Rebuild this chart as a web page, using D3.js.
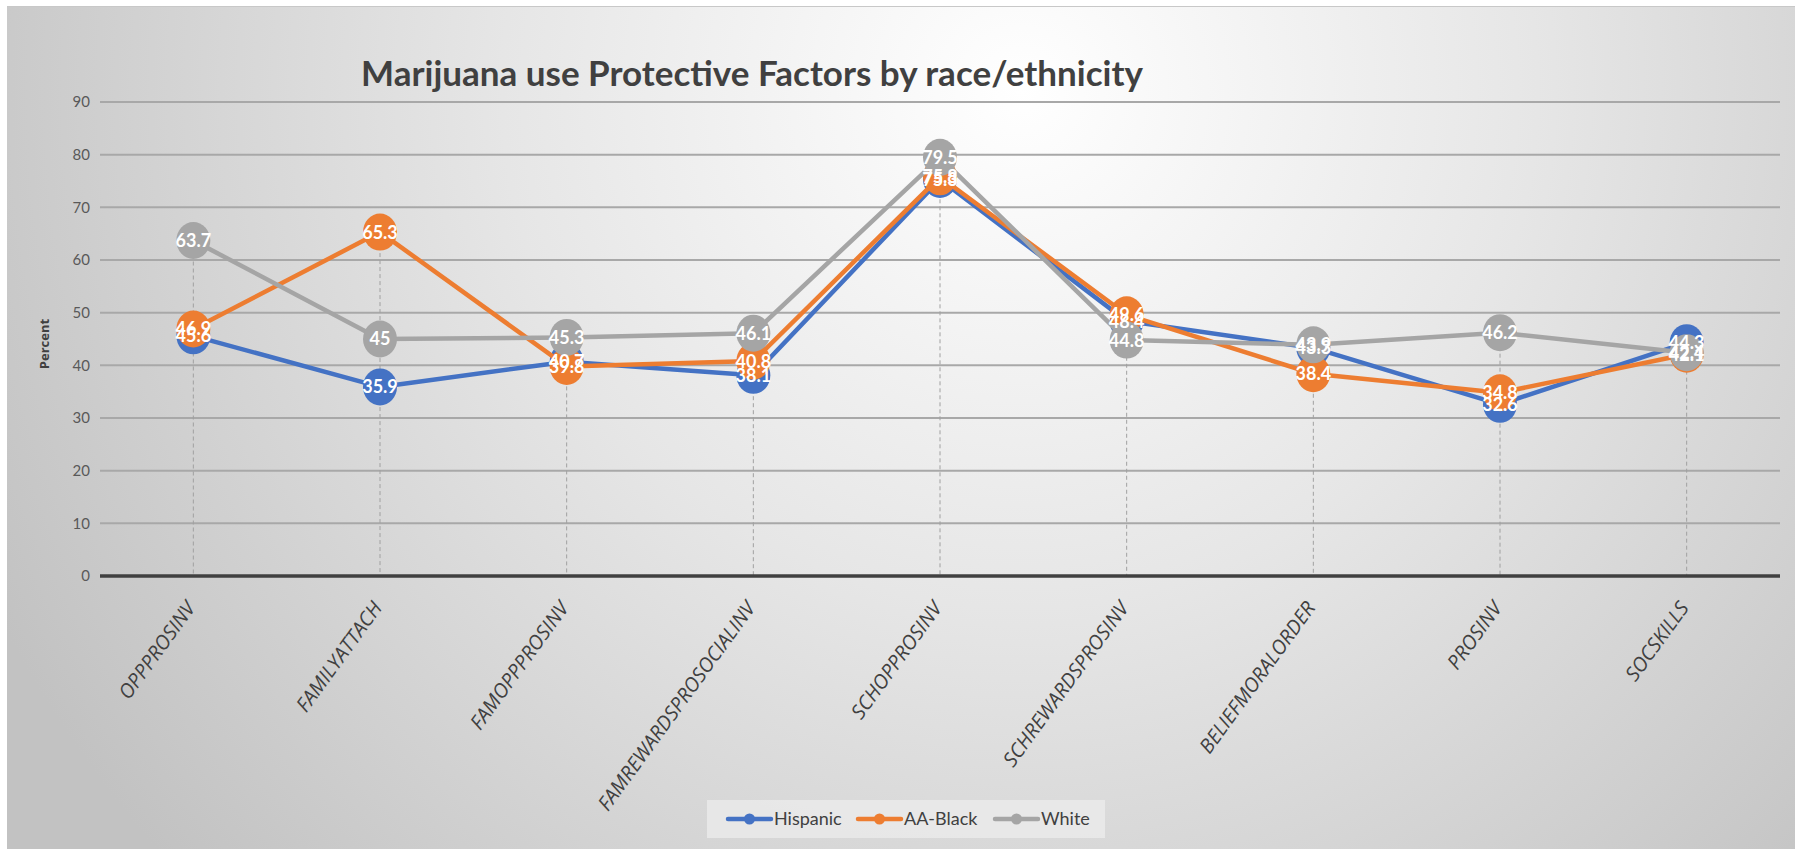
<!DOCTYPE html>
<html lang="en">
<head>
    <meta charset="UTF-8">
    <title>Marijuana use Protective Factors by race/ethnicity</title>
    <script src="https://d3js.org/d3.v7.min.js"></script>
    <style>
        html, body { margin: 0; padding: 0; background: #ffffff; }
        svg { display: block; }
    </style>
</head>
<body>
    <div id="chart"></div>
    <script>
        // data
        const categories = ["OPPPROSINV", "FAMILYATTACH", "FAMOPPPROSINV", "FAMREWARDSPROSOCIALINV",
            "SCHOPPROSINV", "SCHREWARDSPROSINV", "BELIEFMORALORDER", "PROSINV", "SOCSKILLS"];
        const hispanic = [45.6, 35.9, 40.7, 38.1, 75.3, 48.4, 43.3, 32.6, 44.3];
        const aaBlack = [46.9, 65.3, 39.8, 40.8, 75.8, 49.6, 38.4, 34.8, 42.1];
        const white = [63.7, 45, 45.3, 46.1, 79.5, 44.8, 43.9, 46.2, 42.4];
        const seriesNames = ["Hispanic", "AA-Black", "White"];
        const seriesColors = ["#4472C4", "#ED7D31", "#A5A5A5"];
        const yTicks = [0, 10, 20, 30, 40, 50, 60, 70, 80, 90];

        const width = 1795;
        const height = 849;
        const plot = { left: 100, right: 1780, top: 102, bottom: 576 };

        const series = seriesNames.map((name, i) => ({
            name: name,
            color: seriesColors[i],
            values: [hispanic, aaBlack, white][i]
        }));

        const svg = d3.select("#chart")
            .append("svg")
            .attr("width", width)
            .attr("height", height);

        // background gradient
        const defs = svg.append("defs");
        const grad = defs.append("radialGradient")
            .attr("id", "bg")
            .attr("gradientUnits", "userSpaceOnUse")
            .attr("cx", 1020).attr("cy", 90)
            .attr("r", 1150);
        grad.append("stop").attr("offset", "0%").attr("stop-color", "#ffffff");
        grad.append("stop").attr("offset", "45%").attr("stop-color", "#e6e6e6");
        grad.append("stop").attr("offset", "100%").attr("stop-color", "#c2c2c2");

        svg.append("rect")
            .attr("x", 7).attr("y", 6)
            .attr("width", width - 7).attr("height", height - 6)
            .attr("fill", "url(#bg)");
        svg.append("line")
            .attr("x1", 7).attr("x2", width)
            .attr("y1", 6.5).attr("y2", 6.5)
            .attr("stroke", "#c8c8c8").attr("stroke-width", 1);

        const x = d3.scaleBand()
            .domain(categories)
            .range([plot.left, plot.right])
            .padding(0);
        const cx = d => x(d) + x.bandwidth() / 2;

        const y = d3.scaleLinear()
            .domain([0, 90])
            .range([plot.bottom, plot.top]);

        // gridlines
        svg.append("g")
            .selectAll("line")
            .data(yTicks.filter(t => t > 0))
            .enter()
            .append("line")
            .attr("x1", plot.left)
            .attr("x2", plot.right)
            .attr("y1", d => y(d))
            .attr("y2", d => y(d))
            .attr("stroke", "#a8a8a8")
            .attr("stroke-width", 2);

        // y tick labels
        const yAxis = svg.append("g")
            .attr("transform", `translate(${plot.left - 10},0)`)
            .call(d3.axisLeft(y).tickValues(yTicks).tickSize(0).tickPadding(0));
        yAxis.select(".domain").remove();
        yAxis.selectAll("text")
            .attr("font-family", "Lato, 'Open Sans', sans-serif")
            .attr("font-size", "15px")
            .attr("fill", "#595959");

        svg.append("text")
            .attr("transform", `translate(49,${(plot.top + plot.bottom) / 2 + 5}) rotate(-90)`)
            .attr("text-anchor", "middle")
            .attr("font-family", "'Open Sans', sans-serif")
            .attr("font-size", "13px")
            .attr("font-weight", "bold")
            .attr("fill", "#404040")
            .text("Percent");

        // drop lines
        svg.append("g")
            .selectAll("line")
            .data(categories)
            .enter()
            .append("line")
            .attr("x1", d => cx(d))
            .attr("x2", d => cx(d))
            .attr("y1", (d, i) => y(d3.max(series, s => s.values[i])))
            .attr("y2", plot.bottom)
            .attr("stroke", "#a0a0a0")
            .attr("stroke-width", 1)
            .attr("stroke-dasharray", "4,3");

        // zero axis line
        svg.append("line")
            .attr("x1", plot.left)
            .attr("x2", plot.right)
            .attr("y1", y(0))
            .attr("y2", y(0))
            .attr("stroke", "#404040")
            .attr("stroke-width", 3.5);

        // x labels
        svg.append("g")
            .selectAll("text")
            .data(categories)
            .enter()
            .append("text")
            .attr("transform", d => `translate(${cx(d) + 3},${plot.bottom + 32}) rotate(-54)`)
            .attr("text-anchor", "end")
            .attr("font-family", "'Open Sans', sans-serif")
            .attr("font-style", "italic")
            .attr("font-size", "20px")
            .attr("fill", "#404040")
            .text(d => d);

        // series lines and markers
        const line = d3.line()
            .x((v, i) => cx(categories[i]))
            .y(v => y(v));

        series.forEach(s => {
            const g = svg.append("g");
            g.append("path")
                .datum(s.values)
                .attr("d", line)
                .attr("fill", "none")
                .attr("stroke", s.color)
                .attr("stroke-width", 4.5)
                .attr("stroke-linejoin", "round");
            g.selectAll("ellipse")
                .data(s.values)
                .enter()
                .append("ellipse")
                .attr("cx", (v, i) => cx(categories[i]))
                .attr("cy", v => y(v))
                .attr("rx", 17)
                .attr("ry", 18.5)
                .attr("fill", s.color);
        });

        // data labels on top
        series.forEach(s => {
            svg.append("g")
                .selectAll("text")
                .data(s.values)
                .enter()
                .append("text")
                .attr("x", (v, i) => cx(categories[i]))
                .attr("y", v => y(v))
                .attr("dy", "0.36em")
                .attr("text-anchor", "middle")
                .attr("font-family", "Lato, 'Open Sans', sans-serif")
                .attr("font-weight", "bold")
                .attr("font-size", "18px")
                .attr("fill", "#ffffff")
                .text(v => v);
        });

        // title
        svg.append("text")
            .attr("x", 752)
            .attr("y", 86)
            .attr("text-anchor", "middle")
            .attr("font-family", "Lato, 'Open Sans', sans-serif")
            .attr("font-weight", "bold")
            .attr("font-size", "35px")
            .attr("fill", "#404040")
            .text("Marijuana use Protective Factors by race/ethnicity");

        // legend
        const legend = svg.append("g");
        legend.append("rect")
            .attr("x", 707).attr("y", 800)
            .attr("width", 398).attr("height", 38)
            .attr("fill", "#ebebeb")
            .attr("opacity", 0.8);
        const legendX = [728, 858, 995];
        series.forEach((s, i) => {
            const lg = legend.append("g").attr("transform", `translate(${legendX[i]},819)`);
            lg.append("line")
                .attr("x1", 0).attr("x2", 43)
                .attr("stroke", s.color)
                .attr("stroke-width", 4.5)
                .attr("stroke-linecap", "round");
            lg.append("circle")
                .attr("cx", 21.5).attr("r", 5.5)
                .attr("fill", s.color);
            lg.append("text")
                .attr("x", 46)
                .attr("dy", "0.35em")
                .attr("font-family", "Lato, 'Open Sans', sans-serif")
                .attr("font-size", "18px")
                .attr("fill", "#404040")
                .text(s.name);
        });
    </script>
</body>
</html>
